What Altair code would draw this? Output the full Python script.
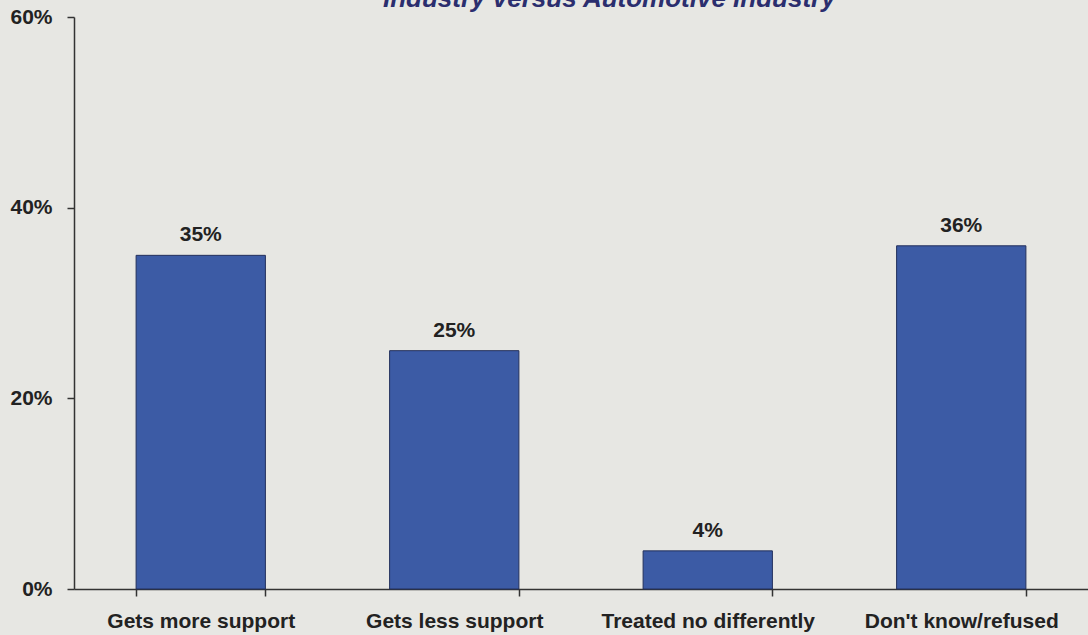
import altair as alt
import pandas as pd

categories = ["Gets more support", "Gets less support", "Treated no differently", "Don't know/refused"]
values = [35, 25, 4, 36]
labels = ["35%", "25%", "4%", "36%"]
title_text = "Industry versus Automotive Industry"
y_ticks = [0, 20, 40, 60]

df = pd.DataFrame({"cat": categories, "val": values, "lab": labels})

FONT = "Liberation Sans"

x_enc = alt.X(
    "cat:N",
    sort=categories,
    title=None,
    scale=alt.Scale(paddingInner=0.49, paddingOuter=0.245),
    axis=alt.Axis(
        labelAngle=0,
        labelFont=FONT,
        labelFontSize=21,
        labelFontWeight="bold",
        labelColor="#222222",
        labelPadding=14,
        labelLimit=0,
        tickBand="extent",
        tickSize=7,
        tickColor="#333333",
        domainColor="#333333",
        domainWidth=1.5,
        tickWidth=1.5,
    ),
)
y_enc = alt.Y(
    "val:Q",
    title=None,
    scale=alt.Scale(domain=[0, 60], nice=False),
    axis=alt.Axis(
        values=y_ticks,
        labelExpr="datum.value + '%'",
        labelFont=FONT,
        labelFontSize=21,
        labelFontWeight="bold",
        labelColor="#222222",
        labelPadding=15,
        tickSize=7,
        tickColor="#333333",
        domainColor="#333333",
        domainWidth=1.5,
        tickWidth=1.5,
        grid=False,
    ),
)

bars = alt.Chart(df).mark_bar(
    color="#3c5ba5", stroke="#23305c", strokeWidth=1
).encode(x=x_enc, y=y_enc)

text = alt.Chart(df).mark_text(
    font=FONT, fontSize=21, fontWeight="bold", color="#222222",
    baseline="alphabetic", dy=-14
).encode(x=alt.X("cat:N", sort=categories), y="val:Q", text="lab:N")

title = alt.Chart(pd.DataFrame({"t": [title_text]})).mark_text(
    font=FONT, fontSize=26, fontWeight="bold", fontStyle="italic",
    color="#2b2e6e", align="left", baseline="alphabetic"
).encode(x=alt.value(309), y=alt.value(-10), text="t:N")

chart = alt.layer(bars, text, title).properties(
    width=1014,
    height=572,
    background="#e7e7e3",
    autosize=alt.AutoSizeParams(type="none"),
    padding={"left": 74, "top": 17, "right": 0, "bottom": 46},
).configure_view(stroke=None)

chart.save("out.html", embed_options={"renderer": "svg", "actions": False})
